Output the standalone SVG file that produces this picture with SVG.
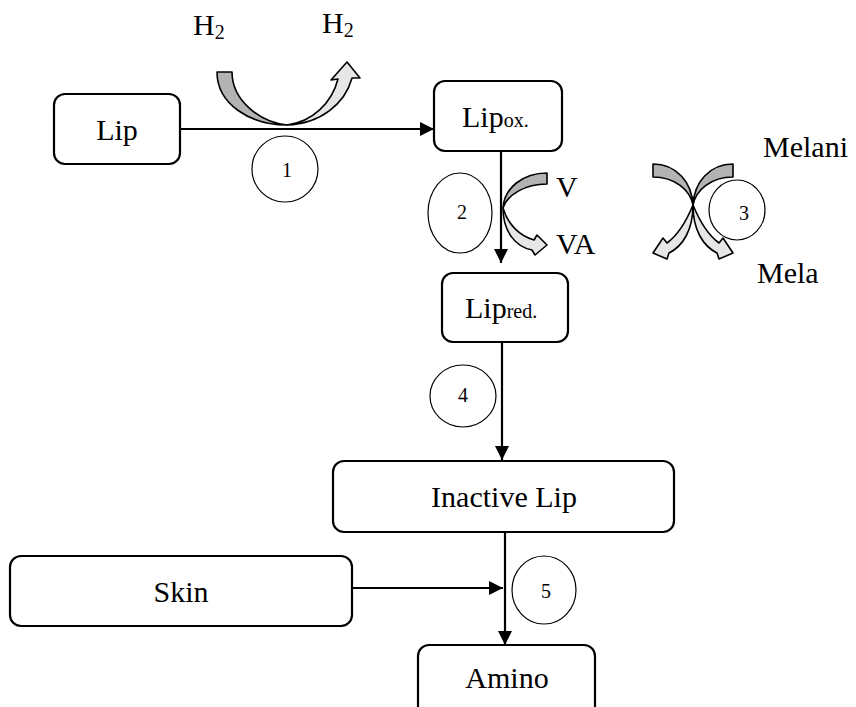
<svg xmlns="http://www.w3.org/2000/svg" width="856" height="707" viewBox="0 0 856 707">
<style>
.box{fill:#fff;stroke:#000;stroke-width:2.2}
.t{font-family:"Liberation Serif","Times New Roman",serif;font-size:30px;fill:#000}
.sub{font-size:20px}
.num{font-family:"Liberation Serif","Times New Roman",serif;font-size:20px;fill:#000;text-anchor:middle}
.circ{fill:#fff;stroke:#000;stroke-width:1.2}
.conn{stroke:#000;stroke-width:2.2;fill:none}
.dark{fill:#b3b3b3;stroke:#000;stroke-width:1.6;stroke-linejoin:round}
.light{fill:#e6e6e6;stroke:#000;stroke-width:1.6;stroke-linejoin:round}
</style>
<defs>
<marker id="ah" markerUnits="userSpaceOnUse" markerWidth="16" markerHeight="14" refX="14" refY="7" orient="auto">
<path d="M0,0 L14,7 L0,14 Z" fill="#000"/>
</marker>
</defs>
<rect width="856" height="707" fill="#fff"/>

<g id="connectors">
<line class="conn" x1="180" y1="129" x2="434" y2="129" marker-end="url(#ah)"/>
<line class="conn" x1="501" y1="151" x2="501" y2="263" marker-end="url(#ah)"/>
<line class="conn" x1="502" y1="342" x2="502" y2="460" marker-end="url(#ah)"/>
<line class="conn" x1="505" y1="532" x2="505" y2="645" marker-end="url(#ah)"/>
<line class="conn" x1="352" y1="588" x2="503" y2="588" marker-end="url(#ah)"/>
</g>

<g id="reaction1-arrow">
<path class="dark" d="M217,72 C217,104 250,125 287,125 C259,122 232,100 232,72 Z"/>
<path class="light" d="M287,125 C320,124 345,104 352,78 L360,78 L347,62 L331,80 L338,79 C332,103 312,122 287,125 Z"/>
</g>
<g id="reaction2-arrow">
<path class="dark" d="M547,173 C523,173 504,188 503,208 C507,195 525,184 547,184 Z"/>
<path class="light" d="M503,208 C503,232 516,247 532,250 L535,255 L547,245 L537,235 L534,240 C520,236 508,225 503,208 Z"/>
</g>
<g id="reaction3-arrow">
<path class="dark" d="M653,164 C677,164 692,183 693,205 C690,190 675,177 653,177 Z"/>
<path class="light" d="M693,205 C700,222 708,235 719,243 L723,238 L733,253 L719,259 L717,253 C703,246 693,230 693,205 Z"/>
<g transform="translate(1386,0) scale(-1,1)">
<path class="dark" d="M653,164 C677,164 692,183 693,205 C690,190 675,177 653,177 Z"/>
<path class="light" d="M693,205 C700,222 708,235 719,243 L723,238 L733,253 L719,259 L717,253 C703,246 693,230 693,205 Z"/>
</g>
</g>

<g id="node-lip">
<rect class="box" x="54" y="94" width="126" height="70" rx="11"/>
<text class="t" x="117" y="140" text-anchor="middle">Lip</text>
</g>
<g id="node-lipox">
<rect class="box" x="434" y="81" width="128" height="70" rx="11"/>
<text class="t" x="462" y="127">Lip<tspan class="sub">ox.</tspan></text>
</g>
<g id="node-lipred">
<rect class="box" x="442" y="273" width="126" height="69" rx="11"/>
<text class="t" x="465" y="318">Lip<tspan class="sub">red.</tspan></text>
</g>
<g id="node-inactive">
<rect class="box" x="333" y="461" width="341" height="71" rx="11"/>
<text class="t" x="504" y="507" text-anchor="middle">Inactive Lip</text>
</g>
<g id="node-skin">
<rect class="box" x="10" y="556" width="342" height="70" rx="11"/>
<text class="t" x="181" y="602" text-anchor="middle">Skin</text>
</g>
<g id="node-amino">
<rect class="box" x="418" y="645" width="177" height="75" rx="11"/>
<text class="t" x="507" y="688" text-anchor="middle">Amino</text>
</g>

<g id="label-h2-in"><text class="t" x="193" y="35">H<tspan class="sub" dy="4">2</tspan></text></g>
<g id="label-h2-out"><text class="t" x="322" y="33">H<tspan class="sub" dy="4">2</tspan></text></g>
<g id="label-v"><text class="t" x="556" y="197">V</text></g>
<g id="label-va"><text class="t" x="556" y="254">VA</text></g>
<g id="label-melani"><text class="t" x="763" y="157">Melani</text></g>
<g id="label-mela"><text class="t" x="757" y="283">Mela</text></g>

<g id="step1"><ellipse class="circ" cx="285" cy="169" rx="33" ry="33"/><text class="num" x="287" y="177">1</text></g>
<g id="step2"><ellipse class="circ" cx="460" cy="213" rx="32" ry="40"/><text class="num" x="462" y="219">2</text></g>
<g id="step3"><ellipse class="circ" cx="737" cy="210" rx="28" ry="30"/><text class="num" x="744" y="220">3</text></g>
<g id="step4"><ellipse class="circ" cx="463" cy="396" rx="33" ry="31"/><text class="num" x="463" y="402">4</text></g>
<g id="step5"><ellipse class="circ" cx="544" cy="590" rx="32" ry="34"/><text class="num" x="546" y="598">5</text></g>
</svg>
